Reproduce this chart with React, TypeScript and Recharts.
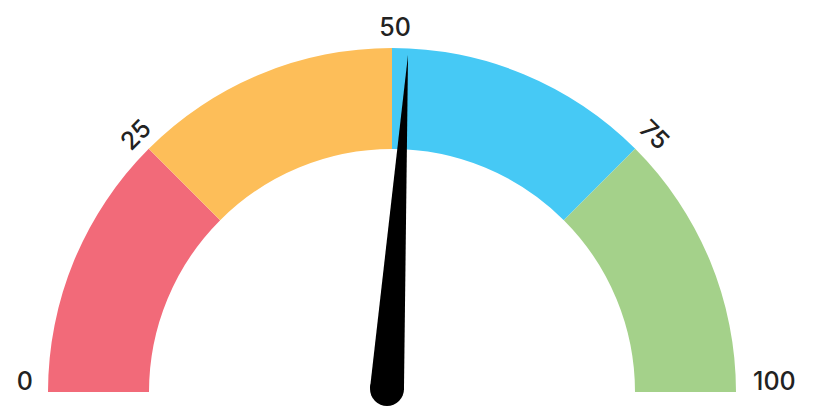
import { PieChart, Pie, Cell, Customized } from "recharts";

const segments = [
  { name: "0-25", value: 25 },
  { name: "25-50", value: 25 },
  { name: "50-75", value: 25 },
  { name: "75-100", value: 25 },
];
const colors = ["#F26A79", "#FDBE59", "#46C9F5", "#A4D18A"];
const ticks = [0, 25, 50, 75, 100];
const needleValue = 52;

const CX = 392;
const CY = 392;
const INNER = 243;
const OUTER = 344;
const RAD = Math.PI / 180;
const FONT = "Inter, 'Noto Sans', sans-serif";

function angleOf(v: number) {
  return 180 - (v / 100) * 180;
}

function TickLabels() {
  return (
    <g>
      {ticks.map((t) => {
        const a = angleOf(t);
        if (t === 0 || t === 100) {
          const x = t === 0 ? CX - 359 : CX + 361;
          return (
            <text
              key={t}
              x={x}
              y={CY - 2}
              textAnchor={t === 0 ? "end" : "start"}
              fontSize={25}
              fontWeight={500}
              fontFamily={FONT}
              fill="#222"
            >
              {t}
            </text>
          );
        }
        const r = 367;
        const x = CX + 3 + r * Math.cos(a * RAD);
        const y = CY + 2 - r * Math.sin(a * RAD);
        return (
          <text
            key={t}
            x={x}
            y={y}
            textAnchor="middle"
            dominantBaseline="central"
            fontSize={25}
            fontWeight={500}
            fontFamily={FONT}
            fill="#222"
            transform={`rotate(${90 - a} ${x} ${y})`}
          >
            {t}
          </text>
        );
      })}
    </g>
  );
}

function Needle() {
  const a = angleOf(needleValue) * RAD;
  const px = CX - 5;
  const py = CY - 3;
  const len = 335;
  const r = 17;
  const tx = px + len * Math.cos(a);
  const ty = py - len * Math.sin(a);
  const bx1 = px + r * Math.sin(a);
  const by1 = py + r * Math.cos(a);
  const bx2 = px - r * Math.sin(a);
  const by2 = py - r * Math.cos(a);
  return (
    <g>
      <path d={`M${bx1},${by1} L${tx},${ty} L${bx2},${by2} Z`} fill="#000" />
      <circle cx={px} cy={py} r={r} fill="#000" />
    </g>
  );
}

// the pie draws its labels above the sectors, so the needle rides on the first label
function renderLabel(props: any) {
  if (props.index !== 0) return null;
  return <Needle />;
}

export default function App() {
  return (
    <div style={{ position: "absolute", left: 0, top: 0, width: 813, height: 408, background: "#fff" }}>
      <PieChart width={813} height={408} margin={{ top: 0, right: 0, bottom: 0, left: 0 }}>
        <Pie
          data={segments}
          dataKey="value"
          cx={CX}
          cy={CY}
          startAngle={180}
          endAngle={0}
          innerRadius={INNER}
          outerRadius={OUTER}
          stroke="none"
          label={renderLabel}
          labelLine={false}
          isAnimationActive={false}
        >
          {segments.map((s, i) => (
            <Cell key={s.name} fill={colors[i]} />
          ))}
        </Pie>
        <Customized component={TickLabels} />
      </PieChart>
    </div>
  );
}
